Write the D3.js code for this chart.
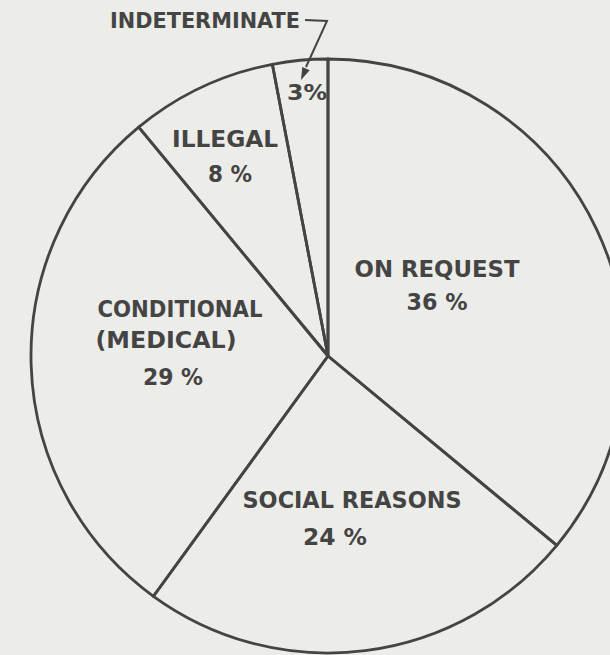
<!DOCTYPE html>
<html><head><meta charset="utf-8">
<script src="https://cdn.jsdelivr.net/npm/d3@7"></script>
<style>
html,body{margin:0;padding:0;background:#ecece9;}
svg{display:block;}
</style></head>
<body>
<script>
// ---- data ----
const categories = ["ON REQUEST", "SOCIAL REASONS", "CONDITIONAL (MEDICAL)", "ILLEGAL", "INDETERMINATE"];
const values = [36, 24, 29, 8, 3];
const percentLabels = ["36 %", "24 %", "29 %", "8 %", "3%"];

const W = 610, H = 655;
const cx = 328, cy = 356, R = 297;
const ink = "#444444";

const svg = d3.select("body").append("svg").attr("width", W).attr("height", H);
svg.append("rect").attr("width", W).attr("height", H).attr("fill", "#ecece9");

const g = svg.append("g").attr("transform", `translate(${cx},${cy})`);

const pie = d3.pie().sort(null).value(d => d)(values);
const arc = d3.arc().innerRadius(0).outerRadius(R);

g.selectAll("path.slice").data(pie).join("path")
  .attr("class", "slice")
  .attr("d", arc)
  .attr("fill", "none")
  .attr("stroke", ink)
  .attr("stroke-width", 2.8)
  .attr("stroke-linejoin", "round");

// label layout (relative to centre, in px), lines per slice
const labelLines = [
  [{t: "ON REQUEST", x: 109, y: -79, w: 165}, {t: percentLabels[0], x: 109, y: -46, w: 61}],
  [{t: "SOCIAL REASONS", x: 24, y: 152, w: 219}, {t: percentLabels[1], x: 7, y: 189, w: 64}],
  [{t: "CONDITIONAL", x: -148, y: -39, w: 165}, {t: "(MEDICAL)", x: -162, y: -8, w: 141}, {t: percentLabels[2], x: -155, y: 29, w: 60}],
  [{t: "ILLEGAL", x: -103, y: -209, w: 106}, {t: percentLabels[3], x: -98, y: -174, w: 44}],
  [{t: percentLabels[4], x: -21, y: -256, w: 40}]
];

const fontFam = "'DejaVu Sans', 'Liberation Sans', sans-serif";
labelLines.forEach((lines, i) => {
  lines.forEach(l => {
    g.append("text")
      .attr("x", l.x).attr("y", l.y)
      .attr("text-anchor", "middle")
      .attr("font-family", fontFam)
      .attr("font-weight", "bold")
      .attr("font-size", i === 4 ? 21 : 23)
      .attr("fill", ink)
      .attr("textLength", l.w)
      .attr("lengthAdjust", "spacingAndGlyphs")
      .text(l.t);
  });
});

// INDETERMINATE callout
svg.append("text")
  .attr("x", 205).attr("y", 28)
  .attr("text-anchor", "middle")
  .attr("font-family", fontFam)
  .attr("font-weight", "bold")
  .attr("font-size", 21)
  .attr("fill", ink)
  .attr("textLength", 190)
  .attr("lengthAdjust", "spacingAndGlyphs")
  .text(categories[4]);

const tip = [301, 80];
svg.append("path")
  .attr("d", d3.line()([[305, 20], [327, 21], [306, 67]]))
  .attr("fill", "none").attr("stroke", ink).attr("stroke-width", 2);
// arrowhead
const ang = Math.atan2(tip[1] - 21, tip[0] - 327);
const len = 13, half = 0.32;
svg.append("path")
  .attr("d", d3.line()([
    tip,
    [tip[0] - len * Math.cos(ang - half), tip[1] - len * Math.sin(ang - half)],
    [tip[0] - len * Math.cos(ang + half), tip[1] - len * Math.sin(ang + half)]
  ]) + "Z")
  .attr("fill", ink);
</script>
</body></html>
